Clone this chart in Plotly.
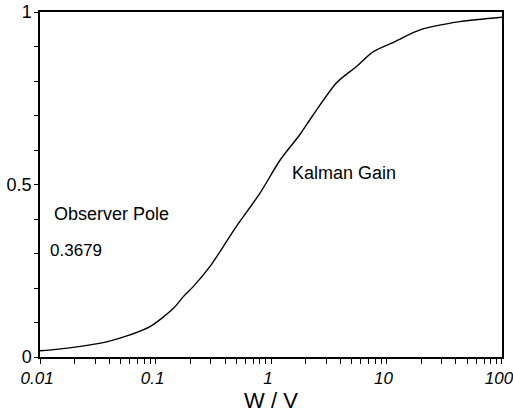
import math
import plotly.graph_objects as go

# Data
w_over_v = [0.01, 0.0194, 0.0378, 0.06, 0.0895, 0.143, 0.174, 0.212, 0.3, 0.5, 0.8, 1.2,
            1.78, 2.3, 3.7, 5.5, 7.7, 12, 19.5, 43, 100]
kalman_gain = [0.018, 0.028, 0.044, 0.064, 0.088, 0.141, 0.175, 0.204, 0.265, 0.378, 0.474,
               0.571, 0.645, 0.70, 0.795, 0.842, 0.885, 0.915, 0.948, 0.972, 0.985]
x_major = [0.01, 0.1, 1, 10, 100]
x_major_text = ["0.01", "0.1", "1", "10", "100"]
y_tick_vals = [0, 0.1, 0.2, 0.3, 0.4, 0.5, 0.6, 0.7, 0.8, 0.9, 1]
y_label_map = {0: "0", 0.5: "0.5", 1: "1"}

FONT = "Liberation Sans, Arial, sans-serif"

# all x ticks (majors and 2..9 minors), labels only on decades
x_tick_vals = []
x_tick_text = []
for i, d in enumerate(x_major):
    x_tick_vals.append(d)
    x_tick_text.append(x_major_text[i])
    if i < len(x_major) - 1:
        for m in range(2, 10):
            x_tick_vals.append(d * m)
            x_tick_text.append("")
y_tick_text = [y_label_map.get(v, "") for v in y_tick_vals]

fig = go.Figure()
fig.add_trace(go.Scatter(x=w_over_v, y=kalman_gain, mode="lines",
                         line=dict(color="black", width=1.4, shape="spline", smoothing=0.8),
                         showlegend=False, hoverinfo="skip"))

fig.add_annotation(x=math.log10(1.52), y=0.533, xref="x", yref="y", xanchor="left", yanchor="middle",
                   xshift=-2, text="Kalman Gain", showarrow=False,
                   font=dict(family=FONT, size=18, color="black"))
fig.add_annotation(x=math.log10(0.0132), y=0.414, xref="x", yref="y", xanchor="left", yanchor="middle",
                   xshift=-2, text="Observer Pole", showarrow=False,
                   font=dict(family=FONT, size=18, color="black"))
fig.add_annotation(x=math.log10(0.0125), y=0.31, xref="x", yref="y", xanchor="left", yanchor="middle",
                   xshift=-3, text="0.3679", showarrow=False,
                   font=dict(family=FONT, size=17, color="black"))

fig.update_xaxes(type="log", range=[-2.0005, 2.0005], tickvals=x_tick_vals, ticktext=x_tick_text,
                 ticks="outside", ticklen=5, tickwidth=1.3, tickcolor="black",
                 ticklabeloverflow="allow", ticklabelshift=-3, automargin=False,
                 showline=True, linecolor="black", linewidth=1.5, mirror=True,
                 showgrid=False, zeroline=False,
                 tickfont=dict(family=FONT, size=17, color="black", style="italic"),
                 title=dict(text="W / V", font=dict(family=FONT, size=22, color="black"), standoff=4))
fig.update_yaxes(range=[0, 1], tickvals=y_tick_vals, ticktext=y_tick_text,
                 ticks="outside", ticklen=4, tickwidth=1.3, tickcolor="black",
                 automargin=False, ticklabelstandoff=-1,
                 showline=True, linecolor="black", linewidth=1.5, mirror=True,
                 showgrid=False, zeroline=False,
                 tickfont=dict(family=FONT, size=18, color="black"))

fig.update_layout(width=513, height=413, margin=dict(l=40, r=11, t=12, b=56),
                  paper_bgcolor="white", plot_bgcolor="white", font=dict(family=FONT))

fig.write_html("out.html")
